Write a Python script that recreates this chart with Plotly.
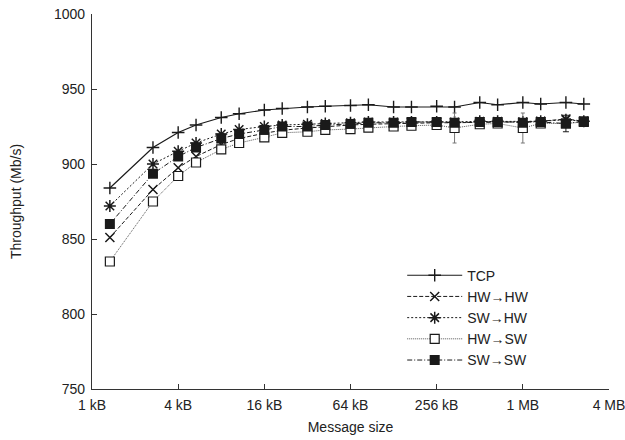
import plotly.graph_objects as go

# Message sizes in kB
sizes_kb = [1.333, 2.667, 4, 5.333, 8, 10.667, 16, 21.333, 32, 42.667, 64, 85.333,
            128, 170.667, 256, 341.333, 512, 682.667, 1024, 1365.333, 2048, 2730.667]

tcp = [884, 911, 921, 926, 931, 933.5, 936, 937, 938, 938.5, 939, 939.5,
       938, 938, 938.5, 938, 941, 939.5, 941, 940, 941, 940]
hw_hw = [851, 883, 897.5, 905, 913, 917, 920.5, 922.5, 924, 925, 926, 926.5,
         927, 927.5, 927.5, 927.5, 928, 928, 928, 928.5, 930, 928.5]
sw_hw = [872, 900, 908.5, 914, 920, 923, 925, 926, 926.5, 927, 927.5, 928,
         928, 928, 928, 928, 928.5, 928.5, 928, 928.5, 929.5, 928.5]
hw_sw = [835, 875, 892, 901, 909.7, 914, 917.8, 920.8, 921.5, 922.7, 923.3, 924.2,
         925, 925.5, 926, 924, 926.5, 927, 924, 927, 927, 928]
sw_sw = [860, 893.5, 905, 911, 917, 920, 922.7, 925, 925, 926, 926.7, 927.5,
         927.5, 928, 928, 927.5, 928, 928, 927.5, 928, 927, 928.5]

hw_sw_err = [0, 0, 0, 0, 0, 0, 0, 0, 0, 0, 0, 0, 0, 0, 0, 10, 0, 0, 10, 0, 0, 0]
sw_sw_err = [0, 0, 0, 0, 0, 0, 0, 0, 0, 0, 0, 0, 0, 0, 0, 0, 0, 0, 0, 0, 5.5, 0]

x_tickvals = [1, 4, 16, 64, 256, 1024, 4096]
x_ticktext = ["1 kB", "4 kB", "16 kB", "64 kB", "256 kB", "1 MB", "4 MB"]
y_tickvals = [750, 800, 850, 900, 950, 1000]

FONT = "Liberation Sans, Arial, Helvetica, sans-serif"
INK = "#1a1a1a"

fig = go.Figure()

fig.add_trace(go.Scatter(
    x=sizes_kb, y=tcp, name="TCP", mode="lines+markers",
    line=dict(color=INK, width=1.2, dash="solid"),
    marker=dict(symbol="cross-thin-open", size=9, color=INK, line=dict(color=INK, width=1.4)),
))
fig.add_trace(go.Scatter(
    x=sizes_kb, y=hw_hw, name="HW→HW", mode="lines+markers",
    line=dict(color=INK, width=1, dash="4px,2px"),
    marker=dict(symbol="x-thin-open", size=9, color=INK, line=dict(color=INK, width=1.5)),
))
fig.add_trace(go.Scatter(
    x=sizes_kb, y=sw_hw, name="SW→HW", mode="lines+markers",
    line=dict(color=INK, width=1, dash="2px,2px"),
    marker=dict(symbol="asterisk-open", size=10, color=INK, line=dict(color=INK, width=1.5)),
))
fig.add_trace(go.Scatter(
    x=sizes_kb, y=hw_sw, name="HW→SW", mode="lines+markers",
    line=dict(color="#555555", width=1, dash="1px,1px"),
    marker=dict(symbol="square", size=9, color="white", line=dict(color=INK, width=1.2)),
    error_y=dict(type="data", array=hw_sw_err, visible=True, color="#777777",
                 thickness=1, width=2),
))
fig.add_trace(go.Scatter(
    x=sizes_kb, y=sw_sw, name="SW→SW", mode="lines+markers",
    line=dict(color=INK, width=1, dash="5px,2px,1px,2px"),
    marker=dict(symbol="square", size=10, color=INK, line=dict(width=0)),
    error_y=dict(type="data", array=sw_sw_err, visible=True, color=INK,
                 thickness=1, width=3),
))

fig.update_layout(
    width=625, height=440,
    margin=dict(l=92, r=16, t=14, b=51, autoexpand=False),
    paper_bgcolor="white", plot_bgcolor="white",
    font=dict(family=FONT, size=14, color="#222222"),
    showlegend=True,
    legend=dict(
        x=0.6, y=0.345, xanchor="left", yanchor="top",
        bgcolor="rgba(0,0,0,0)", font=dict(size=14, family=FONT),
        itemwidth=55, tracegroupgap=0,
    ),
    xaxis=dict(
        type="log", range=[0, 3.61237], automargin=False,
        tickvals=x_tickvals, ticktext=x_ticktext,
        ticks="inside", ticklen=5, tickcolor="#333333",
        showline=True, linecolor="#333333", linewidth=1.3,
        showgrid=False, zeroline=False, mirror=False,
        ticklabeloverflow="allow", ticklabelstandoff=3,
        title=dict(text="Message size", font=dict(size=14), standoff=10),
        tickfont=dict(size=14),
    ),
    yaxis=dict(
        range=[750, 1000], tickvals=y_tickvals, automargin=False,
        ticks="inside", ticklen=5, tickcolor="#333333",
        showline=True, linecolor="#333333", linewidth=1.3,
        showgrid=False, zeroline=False, mirror=False,
        ticklabelstandoff=3,
        title=dict(text="Throughput (Mb/s)", font=dict(size=14), standoff=28),
        tickfont=dict(size=14),
    ),
)

fig.write_html("out.html")
